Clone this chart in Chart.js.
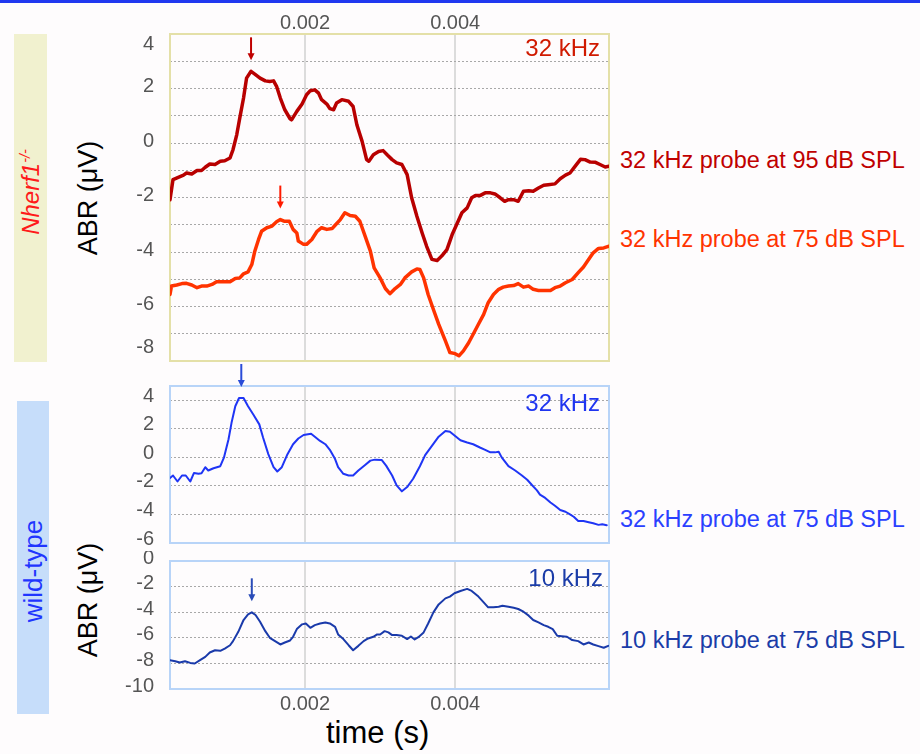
<!DOCTYPE html>
<html>
<head>
<meta charset="utf-8">
<script src="https://cdn.jsdelivr.net/npm/chart.js@4"></script>
<style>
body { margin: 0; width: 920px; height: 754px; background: #fefcfd; position: relative; overflow: hidden; font-family: "Liberation Sans", Arial, sans-serif; }
canvas { position: absolute; }
.topbar { position: absolute; left: 0; top: 0; width: 920px; height: 3px; background: #2038f0; }
.band { position: absolute; }
.rot { position: absolute; white-space: nowrap; transform: translate(-50%, -50%) rotate(-90deg); }
.lbl { position: absolute; white-space: nowrap; font-size: 23.5px; transform: translateY(-50%); }
.tag { position: absolute; white-space: nowrap; font-size: 24px; transform: translate(-100%, -50%); }
sup { font-size: 60%; }
</style>
</head>
<body>
<div class="topbar"></div>
<div class="band" style="left:14px;top:34px;width:33px;height:328px;background:#f1f1cf"></div>
<div class="band" style="left:17px;top:401px;width:32px;height:313px;background:#c6ddfa"></div>
<div class="rot" style="left:31px;top:192px;font-size:24px;color:#ff1a1a"><i>Nherf1<sup>-/-</sup></i></div>
<div class="rot" style="left:33px;top:571px;font-size:26px;color:#1f35ff">wild-type</div>
<div class="rot" style="left:88px;top:198px;font-size:27px;color:#000">ABR (μV)</div>
<div class="rot" style="left:88px;top:600px;font-size:27px;color:#000">ABR (μV)</div>
<div class="lbl" style="left:326px;top:733px;font-size:31px;color:#000">time (s)</div>

<div class="lbl" style="left:620px;top:160px;color:#c00000">32 kHz probe at 95 dB SPL</div>
<div class="lbl" style="left:620px;top:239px;color:#ff3300">32 kHz probe at 75 dB SPL</div>
<div class="lbl" style="left:620px;top:519px;color:#2a40ff">32 kHz probe at 75 dB SPL</div>
<div class="lbl" style="left:620px;top:640px;color:#1b3ca8">10 kHz probe at 75 dB SPL</div>

<canvas id="top" width="504" height="362" style="left:110px;top:0px"></canvas>
<canvas id="mid" width="504" height="186" style="left:110px;top:360px"></canvas>
<canvas id="bot" width="504" height="168" style="left:110px;top:551px"></canvas>

<div class="tag" style="left:600px;top:48px;color:#d01a00">32 kHz</div>
<div class="tag" style="left:600px;top:403px;color:#1f35f0">32 kHz</div>
<div class="tag" style="left:603px;top:578px;color:#1b3ca8">10 kHz</div>

<script>
// times in ms, ABR amplitudes in µV
const t95 = [0.20,0.24,0.31,0.38,0.42,0.49,0.56,0.62,0.67,0.73,0.80,0.87,0.93,1.00,1.04,1.09,1.13,1.18,1.22,1.28,1.33,1.40,1.47,1.53,1.58,1.62,1.67,1.73,1.80,1.82,1.89,1.96,2.02,2.07,2.13,2.18,2.22,2.29,2.33,2.38,2.42,2.49,2.58,2.64,2.69,2.76,2.82,2.85,2.91,2.98,3.04,3.10,3.16,3.22,3.29,3.36,3.42,3.49,3.56,3.62,3.69,3.76,3.82,3.89,3.96,4.02,4.09,4.16,4.22,4.27,4.33,4.40,4.47,4.53,4.60,4.66,4.71,4.78,4.84,4.91,4.98,5.04,5.11,5.18,5.24,5.33,5.40,5.47,5.53,5.60,5.67,5.73,5.80,5.87,5.93,6.00,6.05];
const abr95 = [-2.08,-1.34,-1.26,-1.18,-1.10,-1.14,-1.01,-1.01,-0.89,-0.77,-0.79,-0.67,-0.65,-0.55,-0.24,0.31,0.92,1.65,2.38,2.63,2.53,2.38,2.28,2.26,2.28,2.08,1.65,1.22,0.89,0.85,1.16,1.43,1.77,1.92,1.95,1.83,1.59,1.43,1.26,1.22,1.47,1.59,1.53,1.34,0.67,0.06,-0.61,-0.67,-0.43,-0.31,-0.28,-0.45,-0.61,-0.73,-0.79,-1.16,-2.01,-2.69,-3.30,-3.79,-4.27,-4.31,-4.15,-3.91,-3.36,-2.99,-2.56,-2.38,-2.01,-1.93,-1.93,-1.83,-1.83,-1.87,-2.01,-2.14,-2.08,-2.08,-2.14,-1.77,-1.75,-1.77,-1.65,-1.55,-1.53,-1.50,-1.31,-1.18,-1.10,-0.85,-0.60,-0.61,-0.70,-0.71,-0.79,-0.88,-0.85];

const t75 = [0.20,0.22,0.29,0.36,0.42,0.49,0.56,0.62,0.69,0.76,0.82,0.91,1.00,1.07,1.13,1.18,1.24,1.29,1.33,1.38,1.42,1.49,1.56,1.62,1.67,1.72,1.79,1.84,1.89,1.91,1.98,2.02,2.09,2.16,2.22,2.29,2.36,2.40,2.47,2.53,2.60,2.67,2.73,2.80,2.87,2.92,3.00,3.07,3.13,3.20,3.27,3.33,3.42,3.49,3.53,3.58,3.64,3.71,3.78,3.87,3.93,4.00,4.05,4.11,4.18,4.24,4.31,4.38,4.44,4.51,4.58,4.64,4.71,4.78,4.84,4.91,4.98,5.04,5.11,5.20,5.27,5.33,5.40,5.47,5.56,5.64,5.71,5.78,5.84,5.91,5.98,6.05];
const abr75 = [-5.56,-5.25,-5.21,-5.16,-5.15,-5.21,-5.31,-5.25,-5.25,-5.19,-5.09,-5.09,-5.09,-4.97,-4.95,-4.80,-4.73,-4.46,-3.97,-3.54,-3.24,-3.11,-3.05,-2.89,-2.81,-2.87,-2.87,-3.17,-3.30,-3.60,-3.72,-3.72,-3.54,-3.24,-3.11,-3.17,-3.14,-3.02,-2.81,-2.56,-2.66,-2.69,-2.87,-3.42,-3.97,-4.58,-4.95,-5.34,-5.53,-5.34,-5.19,-4.95,-4.73,-4.62,-4.64,-4.95,-5.56,-6.11,-6.65,-7.26,-7.69,-7.73,-7.81,-7.63,-7.33,-7.02,-6.65,-6.29,-5.86,-5.56,-5.37,-5.29,-5.25,-5.23,-5.16,-5.29,-5.25,-5.37,-5.41,-5.41,-5.41,-5.31,-5.25,-5.13,-5.01,-4.76,-4.55,-4.27,-4.03,-3.87,-3.85,-3.79];

const tWt32 = [0.20,0.24,0.30,0.36,0.41,0.47,0.52,0.58,0.62,0.67,0.71,0.78,0.87,0.92,0.98,1.02,1.07,1.12,1.18,1.24,1.31,1.39,1.44,1.51,1.58,1.63,1.69,1.76,1.84,1.91,1.98,2.08,2.13,2.20,2.27,2.33,2.40,2.44,2.51,2.58,2.64,2.71,2.80,2.87,2.93,3.02,3.08,3.16,3.22,3.29,3.36,3.44,3.53,3.60,3.69,3.78,3.87,3.93,4.00,4.07,4.16,4.24,4.33,4.40,4.47,4.53,4.58,4.62,4.71,4.80,4.89,4.96,5.02,5.09,5.13,5.20,5.27,5.33,5.40,5.47,5.53,5.58,5.64,5.71,5.78,5.84,5.91,5.96,6.02];
const abrWt32 = [-1.45,-1.27,-1.69,-1.27,-1.27,-1.69,-1.09,-1.15,-1.11,-0.69,-0.92,-0.76,-0.62,0,1.27,2.42,3.58,4.16,4.16,3.58,3.00,2.31,1.39,0.23,-0.69,-0.99,-0.69,0.16,0.92,1.32,1.57,1.66,1.45,1.15,0.92,0.53,-0.12,-0.69,-1.15,-1.27,-1.27,-0.92,-0.53,-0.23,-0.16,-0.18,-0.58,-1.27,-1.96,-2.38,-2.08,-1.50,-0.62,0.16,0.81,1.45,1.85,1.80,1.50,1.20,1.04,0.92,0.69,0.53,0.35,0.35,0.39,0,-0.62,-0.92,-1.27,-1.57,-1.92,-2.31,-2.61,-2.84,-3.16,-3.39,-3.69,-3.81,-4.00,-4.16,-4.46,-4.46,-4.55,-4.62,-4.73,-4.69,-4.76];

const tWt10 = [0.20,0.27,0.33,0.40,0.47,0.53,0.60,0.67,0.73,0.80,0.87,0.93,1.00,1.04,1.11,1.18,1.24,1.29,1.34,1.40,1.47,1.53,1.60,1.67,1.73,1.80,1.84,1.89,1.96,2.01,2.07,2.13,2.20,2.27,2.33,2.40,2.44,2.51,2.58,2.64,2.71,2.78,2.84,2.91,2.96,3.00,3.06,3.11,3.16,3.22,3.29,3.36,3.41,3.46,3.51,3.58,3.64,3.71,3.78,3.87,3.93,3.99,4.07,4.16,4.22,4.31,4.38,4.44,4.51,4.58,4.63,4.71,4.78,4.84,4.91,4.98,5.04,5.11,5.18,5.24,5.30,5.36,5.42,5.49,5.56,5.64,5.71,5.78,5.84,5.91,5.98,6.04];
const abrWt10 = [-7.75,-7.83,-7.93,-7.83,-7.96,-8.01,-7.75,-7.49,-7.15,-6.97,-7.02,-6.84,-6.58,-6.26,-5.53,-4.61,-4.17,-4.01,-4.22,-4.75,-5.48,-6.00,-6.26,-6.52,-6.37,-6.21,-5.92,-5.32,-4.95,-4.88,-5.22,-5.01,-4.88,-4.80,-4.88,-5.14,-5.74,-6.10,-6.58,-6.97,-6.63,-6.26,-6.05,-5.92,-5.74,-5.74,-5.48,-5.58,-5.79,-5.79,-5.84,-6.10,-5.90,-6.13,-5.95,-5.58,-4.88,-4.01,-3.39,-2.92,-2.78,-2.52,-2.34,-2.18,-2.34,-2.78,-3.23,-3.62,-3.62,-3.57,-3.49,-3.57,-3.65,-3.75,-3.96,-4.27,-4.61,-4.80,-5.01,-5.14,-5.32,-5.84,-5.87,-5.92,-6.18,-6.26,-6.52,-6.37,-6.52,-6.65,-6.78,-6.63];

// peak markers (ms, µV): 95 dB, 75 dB, wt 32 kHz, wt 10 kHz
const peakTimes = [1.28, 1.67, 1.15, 1.29];
const peakValues = [2.63, -2.81, 4.16, -4.01];

const timeTicks = [0.002, 0.004];

const pts = (ts, vs) => ts.map((t, i) => ({ x: t / 1000, y: vs[i] }));
const tickFont = { family: 'Liberation Sans', size: 20 };
const tickColor = '#555';

function frame(color) {
	return {
		id: 'frame',
		beforeDatasetsDraw(chart) {
			const { ctx, chartArea: a } = chart;
			ctx.save();
			ctx.strokeStyle = color;
			ctx.lineWidth = 2;
			ctx.strokeRect(a.left, a.top, a.right - a.left, a.bottom - a.top);
			ctx.restore();
		},
	};
}

function arrows(items) {
	return {
		id: 'peakArrow',
		afterDatasetsDraw(chart) {
			const { ctx, scales } = chart;
			items.forEach((p) => {
				const px = scales.x.getPixelForValue(p.t / 1000);
				const tip = scales.y.getPixelForValue(p.v) - 11;
				ctx.save();
				ctx.strokeStyle = p.color;
				ctx.fillStyle = p.color;
				ctx.lineWidth = 2;
				ctx.beginPath();
				ctx.moveTo(px, tip - 23);
				ctx.lineTo(px, tip - 5);
				ctx.stroke();
				ctx.beginPath();
				ctx.moveTo(px - 3.5, tip - 7);
				ctx.lineTo(px + 3.5, tip - 7);
				ctx.lineTo(px, tip);
				ctx.closePath();
				ctx.fill();
				ctx.restore();
			});
		},
	};
}

// pin axis sizes so the plot areas land where the reference has them
function noEdgePadding(s) {
	s.paddingTop = 0;
	s.paddingBottom = 0;
	s.paddingLeft = 0;
	s.paddingRight = 0;
}

function xAxis(pos, showLabels, height, pad) {
	return {
		type: 'linear',
		position: pos,
		min: 0.0002,
		max: 0.00605,
		afterBuildTicks: (s) => { s.ticks = timeTicks.map((v) => ({ value: v })); },
		afterFit: (s) => { s.height = height; noEdgePadding(s); },
		grid: { color: '#dcdcdc', lineWidth: 2, drawTicks: false },
		border: { display: false },
		ticks: { display: showLabels, font: tickFont, color: tickColor, padding: pad, maxRotation: 0, autoSkip: false, callback: (v) => v.toFixed(3) },
	};
}

// tuck the end labels inside the frame (top one down, bottom one up), as in the original
function edgeLabel(v, min, max, every) {
	if (v % every !== 0) return '';
	if (v === max) return ['', String(v)];
	if (v === min) return [String(v), ''];
	return String(v);
}

function yAxis(min, max, step, every, offset, tuck) {
	return {
		min: min,
		max: max,
		afterFit: (s) => { s.width = 60; noEdgePadding(s); },
		grid: { color: '#a8a8a8', lineWidth: 1, drawTicks: false },
		border: { display: false, dash: [2, 2] },
		ticks: {
			stepSize: step,
			includeBounds: false,
			autoSkip: false,
			font: tickFont,
			color: tickColor,
			padding: 16,
			labelOffset: offset,
			callback: (v) => (tuck ? edgeLabel(v, min, max, every) : (v % every === 0 ? v : '')),
		},
	};
}

function line(data, color, width) {
	return { data: data, borderColor: color, borderWidth: width, pointRadius: 0, tension: 0, borderJoinStyle: 'round', borderCapStyle: 'round', fill: false };
}

function panel(id, datasets, x, y, padding, plugins) {
	return new Chart(document.getElementById(id), {
		type: 'line',
		data: { datasets: datasets },
		options: {
			responsive: false,
			animation: false,
			events: [],
			layout: { padding: padding },
			scales: { x: x, y: y },
			plugins: { legend: { display: false }, tooltip: { enabled: false } },
		},
		plugins: plugins,
	});
}

panel('top',
	[line(pts(t95, abr95), '#b80000', 3.5), line(pts(t75, abr75), '#ff3300', 3.5)],
	xAxis('top', true, 34, -1),
	yAxis(-8, 4, 1, 2, -2, true),
	{ top: 0, right: 5, bottom: 1, left: 0 },
	[frame('#e4e0a8'), arrows([
		{ t: peakTimes[0], v: peakValues[0], color: '#c00000' },
		{ t: peakTimes[1], v: peakValues[1], color: '#ff1a00' },
	])]
);

panel('mid',
	[line(pts(tWt32, abrWt32), '#1f35f5', 2)],
	xAxis('bottom', false, 0, 3),
	yAxis(-6, 5, 2, 2, -4, false),
	{ top: 26, right: 5, bottom: 3, left: 0 },
	[frame('#b8d4f8'), arrows([{ t: peakTimes[2], v: peakValues[2], color: '#2a4cd8' }])]
);

panel('bot',
	[line(pts(tWt10, abrWt10), '#1a3aaa', 2)],
	xAxis('bottom', true, 30, 3),
	yAxis(-10, 0, 2, 2, -3, false),
	{ top: 10, right: 5, bottom: 0, left: 0 },
	[frame('#b8d4f8'), arrows([{ t: peakTimes[3], v: peakValues[3], color: '#2a4cb8' }])]
);
</script>
</body>
</html>
